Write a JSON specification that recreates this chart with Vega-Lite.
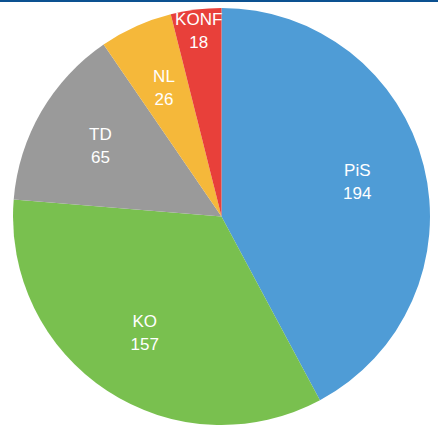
{
  "$schema": "https://vega.github.io/schema/vega-lite/v6.json",
  "width": 438,
  "height": 427,
  "autosize": {"type": "fit", "contains": "padding"},
  "padding": {"top": 2, "left": 0, "right": 0, "bottom": 0},
  "background": "#0c5191",
  "view": {"fill": "#ffffff", "stroke": null},
  "config": {"view": {"fill": "#ffffff", "stroke": null}},
  "data": {
    "values": [
      {"party": "PiS", "seats": 194},
      {"party": "KO", "seats": 157},
      {"party": "TD", "seats": 65},
      {"party": "NL", "seats": 26},
      {"party": "KONF", "seats": 18}
    ]
  },
  "encoding": {
    "theta": {"field": "seats", "type": "quantitative", "stack": true},
    "order": {"field": "seats", "sort": "descending"}
  },
  "layer": [
    {
      "mark": {"type": "arc", "outerRadius": 208.5, "xOffset": 2.5, "yOffset": 2},
      "encoding": {
        "color": {
          "field": "party",
          "type": "nominal",
          "scale": {
            "domain": ["PiS", "KO", "TD", "NL", "KONF"],
            "range": ["#4f9cd6", "#79c04f", "#9a9a9a", "#f5b83a", "#e8403a"]
          },
          "legend": null
        }
      }
    },
    {
      "transform": [{"filter": "datum.party !== 'KONF'"}],
      "mark": {"type": "text", "radius": 140, "xOffset": 2.5, "yOffset": 2, "dy": -11.5, "font": "Liberation Sans", "fontSize": 17, "fill": "white"},
      "encoding": {"text": {"field": "party"}, "detail": {"field": "party"}}
    },
    {
      "transform": [{"filter": "datum.party !== 'KONF'"}],
      "mark": {"type": "text", "radius": 140, "xOffset": 2.5, "yOffset": 2, "dy": 11.5, "font": "Liberation Sans", "fontSize": 17, "fill": "white"},
      "encoding": {"text": {"field": "seats"}, "detail": {"field": "party"}}
    },
    {
      "mark": {"type": "text", "radius": 186, "xOffset": 2.5, "yOffset": 2, "dy": -11.5, "font": "Liberation Sans", "fontSize": 17, "fill": "white"},
      "encoding": {
        "text": {"field": "party"},
        "detail": {"field": "party"},
        "opacity": {"condition": {"test": "datum.party === 'KONF'", "value": 1}, "value": 0}
      }
    },
    {
      "mark": {"type": "text", "radius": 186, "xOffset": 2.5, "yOffset": 2, "dy": 11.5, "font": "Liberation Sans", "fontSize": 17, "fill": "white"},
      "encoding": {
        "text": {"field": "seats"},
        "detail": {"field": "party"},
        "opacity": {"condition": {"test": "datum.party === 'KONF'", "value": 1}, "value": 0}
      }
    }
  ]
}
